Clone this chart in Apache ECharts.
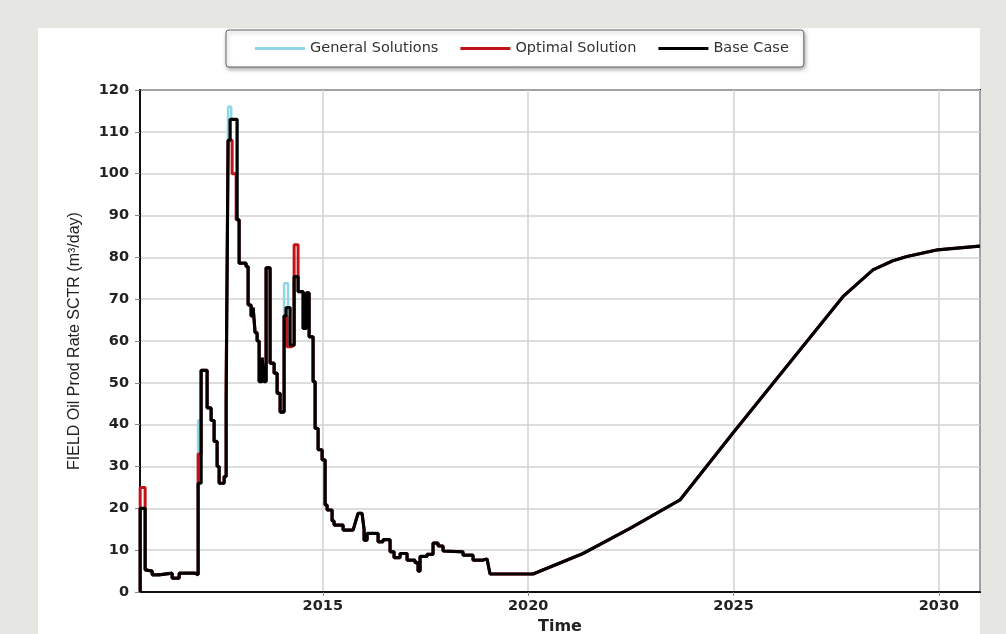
<!DOCTYPE html>
<html>
<head>
<meta charset="utf-8">
<title>FIELD Oil Prod Rate SCTR</title>
<script src="https://cdn.jsdelivr.net/npm/echarts@6/dist/echarts.min.js"></script>
<style>
  html, body { margin: 0; padding: 0; width: 1006px; height: 634px; background: #e6e7e3; overflow: hidden; }
  #panel { position: absolute; left: 38px; top: 28px; width: 942px; height: 606px; background: #ffffff; }
  #chart { position: absolute; left: 0; top: 0; width: 1006px; height: 634px; }
</style>
</head>
<body>
<div id="panel"></div>
<div id="chart"></div>
<script>
// Base case field oil rate, [decimal year, m³/day]
const baseCase = [
  [2010.554, 0], [2010.554, 20], [2010.675, 20], [2010.675, 5.3],
  [2010.846, 5.0], [2010.846, 4.1], [2011.016, 4.1], [2011.016, 4.5],
  [2011.332, 4.5], [2011.332, 3.3], [2011.503, 3.3], [2011.503, 4.5],
  [2011.892, 4.5], [2011.892, 4.1], [2011.965, 4.1], [2011.965, 26],
  [2012.038, 26], [2012.038, 53], [2012.184, 53], [2012.184, 44],
  [2012.281, 44], [2012.281, 41], [2012.354, 41], [2012.354, 36],
  [2012.427, 36], [2012.427, 30], [2012.476, 30], [2012.476, 26],
  [2012.598, 26], [2012.598, 27.6], [2012.647, 27.6], [2012.647, 45],
  [2012.695, 45], [2012.695, 108], [2012.744, 108], [2012.744, 113],
  [2012.914, 113], [2012.914, 89], [2012.963, 89], [2012.963, 78.6],
  [2013.133, 78.6], [2013.133, 77.8], [2013.182, 77.8], [2013.182, 68.6],
  [2013.255, 68.6], [2013.255, 66], [2013.304, 66], [2013.304, 68],
  [2013.352, 68], [2013.352, 62], [2013.401, 62], [2013.401, 60],
  [2013.450, 60], [2013.450, 50.3], [2013.523, 50.3], [2013.523, 56],
  [2013.571, 56], [2013.571, 50.3], [2013.620, 50.3], [2013.620, 77.5],
  [2013.717, 77.5], [2013.717, 54.7], [2013.815, 54.7], [2013.815, 52.3],
  [2013.888, 52.3], [2013.888, 47.5], [2013.961, 47.5], [2013.961, 43],
  [2014.058, 43], [2014.058, 66], [2014.107, 66], [2014.107, 68],
  [2014.204, 68], [2014.204, 59], [2014.302, 59], [2014.302, 75.4],
  [2014.399, 75.4], [2014.399, 71.8], [2014.521, 71.8], [2014.521, 63],
  [2014.594, 63], [2014.594, 71.5], [2014.667, 71.5], [2014.667, 61],
  [2014.764, 61], [2014.764, 50.3], [2014.813, 50.3], [2014.813, 39.1],
  [2014.886, 39.1], [2014.886, 34], [2014.983, 34], [2014.983, 31.6],
  [2015.056, 31.6], [2015.056, 20.8], [2015.105, 20.8], [2015.105, 19.6],
  [2015.226, 19.6], [2015.226, 17], [2015.275, 17], [2015.275, 16],
  [2015.494, 16], [2015.494, 14.8], [2015.737, 14.8], [2015.810, 17.2],
  [2015.859, 18.8], [2015.956, 18.8], [2016.005, 15], [2016.005, 12.4],
  [2016.078, 12.4], [2016.078, 14], [2016.346, 14], [2016.346, 12],
  [2016.467, 12], [2016.467, 12.5], [2016.638, 12.5], [2016.638, 9.6],
  [2016.735, 9.6], [2016.735, 8.2], [2016.881, 8.2], [2016.881, 9.2],
  [2017.052, 9.2], [2017.052, 7.6], [2017.246, 7.6], [2017.246, 7.0],
  [2017.319, 7.0], [2017.319, 5.0], [2017.368, 5.0], [2017.368, 8.5],
  [2017.538, 8.5], [2017.538, 9.0], [2017.684, 9.0], [2017.684, 11.7],
  [2017.806, 11.7], [2017.806, 11.0], [2017.928, 11.0], [2017.928, 9.8],
  [2018.414, 9.6], [2018.414, 8.8], [2018.658, 8.8], [2018.658, 7.6],
  [2018.877, 7.6], [2018.877, 7.9], [2018.999, 7.9], [2019.072, 4.3],
  [2020.118, 4.3], [2021.335, 9.2], [2022.479, 15.2], [2023.696, 22],
  [2024.986, 38], [2027.663, 70.6], [2028.393, 77], [2028.880, 79.2],
  [2029.221, 80.2], [2029.975, 81.8], [2030.997, 82.7]
];

// Stretches where the optimal solution departs from the base case
const optimalSegments = [
  [[2010.554, 0], [2010.554, 25], [2010.675, 25], [2010.675, 5.3]],
  [[2011.965, 4.1], [2011.965, 33], [2012.038, 33], [2012.038, 53]],
  [[2012.647, 27.6], [2012.647, 50], [2012.695, 50], [2012.695, 108],
   [2012.793, 108], [2012.793, 100], [2012.890, 100], [2012.890, 89],
   [2012.963, 89], [2012.963, 78.6]],
  [[2014.058, 43], [2014.058, 66], [2014.131, 66], [2014.131, 58.6],
   [2014.228, 58.6], [2014.228, 59], [2014.302, 59], [2014.302, 83],
   [2014.399, 83], [2014.399, 71.8]]
];

// Stretches where the general solutions depart from the base case
const generalSegments = [
  [[2011.965, 4.1], [2011.965, 41], [2012.038, 41], [2012.038, 53]],
  [[2012.695, 45], [2012.695, 116], [2012.770, 116], [2012.770, 113],
   [2012.914, 113], [2012.914, 89]],
  [[2014.058, 43], [2014.058, 73.8], [2014.155, 73.8], [2014.155, 68],
   [2014.204, 68], [2014.204, 59]]
];

const seriesNames = ['General Solutions', 'Optimal Solution', 'Base Case'];
const yTicks = [0, 10, 20, 30, 40, 50, 60, 70, 80, 90, 100, 110, 120];

// Replace the base-case points inside each segment's year span with that segment
function spliceSegments(base, segments) {
  const out = base.slice();
  segments.forEach(function (seg) {
    const a = seg[0][0], b = seg[seg.length - 1][0];
    const i = out.findIndex(function (p) { return p[0] >= a; });
    let j = i;
    while (j < out.length && out[j][0] <= b) j++;
    out.splice.apply(out, [i, j - i].concat(seg));
  });
  return out;
}

const generalData = spliceSegments(baseCase, generalSegments);
const optimalData = spliceSegments(baseCase, optimalSegments);

const SANS = '"Liberation Sans", Arial, Helvetica, sans-serif';
const WIDE = '"DejaVu Sans", Verdana, sans-serif';

const chart = echarts.init(document.getElementById('chart'), null, { renderer: 'canvas' });
chart.setOption({
  animation: false,
  backgroundColor: 'transparent',
  legend: {
    data: seriesNames,
    top: 30,
    left: 226,
    icon: 'rect',
    itemWidth: 50,
    itemHeight: 3,
    itemGap: 22,
    padding: [11, 15, 11, 29],
    backgroundColor: '#ffffff',
    borderColor: '#666666',
    borderWidth: 1,
    borderRadius: 3,
    shadowColor: 'rgba(0,0,0,0.35)',
    shadowBlur: 4,
    shadowOffsetX: 1,
    shadowOffsetY: 2,
    textStyle: { fontFamily: WIDE, fontSize: 14.5, color: '#333333' }
  },
  grid: {
    left: 140, right: 26, top: 90, bottom: 42,
    outerBoundsMode: 'none',
    containLabel: false,
    show: true,
    backgroundColor: '#ffffff',
    borderColor: '#111111',
    borderWidth: 2
  },
  xAxis: {
    type: 'value',
    min: 2010.55,
    max: 2031,
    splitNumber: 5,
    name: 'Time',
    nameLocation: 'middle',
    nameGap: 27,
    nameTextStyle: { fontFamily: WIDE, fontSize: 16, fontWeight: 'bold', color: '#222222' },
    axisLine: { show: true, lineStyle: { color: '#111111', width: 2 } },
    axisTick: { show: true, length: 4, lineStyle: { color: '#888888' } },
    axisLabel: {
      showMinLabel: false, showMaxLabel: false, margin: 7,
      fontFamily: WIDE, fontSize: 14.5, fontWeight: 'bold', color: '#222222',
      formatter: function (v) { return String(Math.round(v)); }
    },
    splitLine: { show: true, lineStyle: { color: '#d2d2d2', width: 1.5 } }
  },
  yAxis: {
    type: 'value',
    min: yTicks[0],
    max: yTicks[yTicks.length - 1],
    interval: 10,
    name: 'FIELD Oil Prod Rate SCTR (m³/day)',
    nameLocation: 'middle',
    nameGap: 57,
    nameTextStyle: { fontFamily: SANS, fontSize: 16, color: '#222222' },
    axisLine: { show: true, lineStyle: { color: '#111111', width: 2 } },
    axisTick: { show: true, length: 5, lineStyle: { color: '#888888' } },
    axisLabel: { margin: 11, fontFamily: WIDE, fontSize: 14.5, fontWeight: 'bold', color: '#222222' },
    splitLine: { show: true, lineStyle: { color: '#d2d2d2', width: 1.5 } }
  },
  series: [
    {
      name: seriesNames[0], type: 'line', data: generalData,
      showSymbol: false, color: '#8fd6e4',
      lineStyle: { width: 2.5, color: '#8fd6e4' }, z: 2
    },
    {
      name: seriesNames[1], type: 'line', data: optimalData,
      showSymbol: false, color: '#c0141a',
      lineStyle: { width: 3, color: '#c0141a' }, z: 3
    },
    {
      name: seriesNames[2], type: 'line', data: baseCase,
      showSymbol: false, color: '#000000',
      lineStyle: { width: 3.2, color: '#000000' }, z: 4
    }
  ]
});
</script>
</body>
</html>
